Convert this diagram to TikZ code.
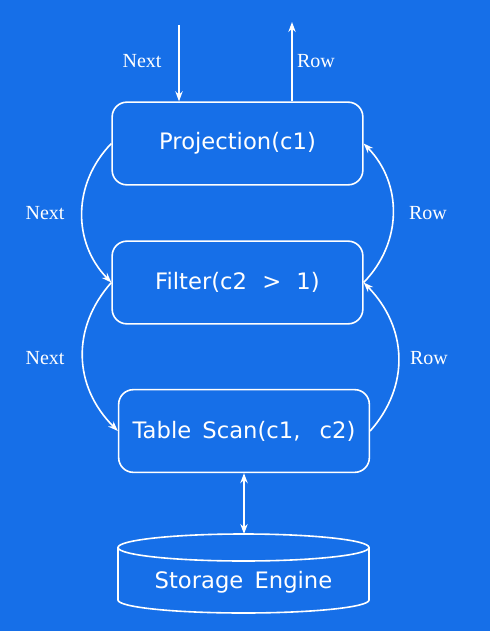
\documentclass[tikz,border=0pt]{standalone}
\usepackage{fontspec}
\setmainfont{Liberation Serif}
\newfontfamily\boxfont{DejaVu Sans}
\usetikzlibrary{arrows.meta}
\definecolor{bgblue}{RGB}{22,111,232}

\begin{document}
\begin{tikzpicture}[x=0.75pt, y=-0.75pt, >={Stealth[length=7.5pt, width=5.5pt]}, line width=1.2pt, color=white,
    opbox/.style={draw, rounded corners=11pt, minimum width=188pt, minimum height=62pt,
        font=\boxfont\fontsize{17}{20}\selectfont},
    lbl/.style={font=\fontsize{15}{18}\selectfont}]
    % 背景
    \fill[bgblue] (0,0) rectangle (490,631);
    \useasboundingbox (0,0) rectangle (490,631);

    % 算子
    \node[opbox] (proj) at (237.5,143.5) {Projection(c1)};
    \node[opbox] (filter) at (237.5,282.5) {Filter(c2\hspace{6pt} >\hspace{6pt} 1)};
    \node[opbox] (scan) at (244,431) {Table\hspace{3pt} Scan(c1,\hspace{9pt} c2)};

    % 顶部输入输出
    \coordinate (nextin) at (179,25);
    \coordinate (rowout) at (292,22);
    \draw[->] (nextin) -- (nextin |- proj.north);
    \draw[->] (rowout |- proj.north) -- (rowout);
    \node[lbl] (nexttop) at (142,61) {Next};
    \node[lbl] (rowtop) at (316,61) {Row};

    % Next 调用（左侧）
    \draw[->] (proj.west) .. controls +(-39,40) and +(-39,-40) .. (filter.west);
    \draw[->] (filter.west) .. controls +(-40,45) and +(-45,-45) .. (scan.west);
    \node[lbl] (next1) at (45,213) {Next};
    \node[lbl] (next2) at (45,358) {Next};

    % Row 返回（右侧）
    \draw[->] (filter.east) .. controls +(39,-40) and +(39,40) .. (proj.east);
    \draw[->] (scan.east) .. controls +(40,-45) and +(44,45) .. (filter.east);
    \node[lbl] (row1) at (428,213) {Row};
    \node[lbl] (row2) at (429,358) {Row};

    % 存储引擎
    \coordinate (setop) at (244,534);
    \draw (243.5,547.5) ellipse [x radius=125.5, y radius=13.5];
    \draw (118,547.5) -- (118,600) arc[start angle=180, end angle=0, x radius=125.5, y radius=13] -- (369,547.5);
    \node[font=\boxfont\fontsize{17}{20}\selectfont] (storage) at (243.5,582) {Storage\hspace{3pt} Engine};
    \draw[<->] (scan.south) -- (setop);
\end{tikzpicture}
\end{document}
